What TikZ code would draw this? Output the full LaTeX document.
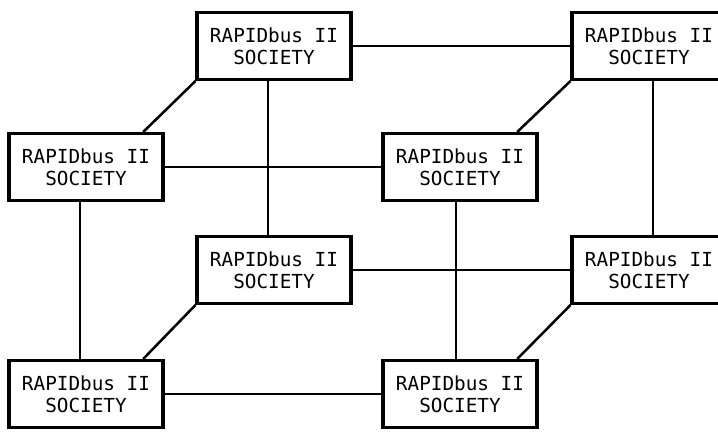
\documentclass[tikz,border=0pt]{standalone}
\usepackage{fontspec}
\setmonofont{DejaVu Sans Mono}
\begin{document}
\begin{tikzpicture}[x=0.75pt,y=-0.75pt,
  boite/.style={draw,line width=2.4pt,minimum width=115.5pt,minimum height=50.25pt,
    align=center,inner sep=0pt,font=\ttfamily\fontsize{14.5}{16.5}\selectfont},
  lien/.style={line width=1.9pt}]
\useasboundingbox (0,0) rectangle (718,432);
\clip (0,0) rectangle (718,432);
% Boîtes arrière
\foreach \nom/\x/\y in {ahg/274/46, ahd/649/46, abg/274/270, abd/649/270} {
\node[boite] (\nom) at (\x,\y) {RAPIDbus II\\SOCIETY};
}
% Boîtes avant
\foreach \nom/\x/\y in {vhg/86/167, vhd/460/167, vbg/86/394, vbd/460/394} {
\node[boite] (\nom) at (\x,\y) {RAPIDbus II\\SOCIETY};
}
% Liaisons horizontales
\foreach \a/\b in {ahg/ahd, abg/abd, vhg/vhd, vbg/vbd} {
\draw[lien] (\a.east) -- (\b.west);
}
% Liaisons verticales
\foreach \a/\b/\d in {ahg/abg/-6, ahd/abd/4, vhg/vbg/-6, vhd/vbd/-4} {
\draw[lien] ([xshift=\d*0.75pt]\a.south) -- ([xshift=\d*0.75pt]\b.north);
}
% Liaisons obliques
\foreach \a/\b in {ahg/vhg, ahd/vhd, abg/vbg, abd/vbd} {
\draw[lien] (\a.south west) -- ([xshift=-16pt]\b.north east);
}
\end{tikzpicture}
\end{document}
